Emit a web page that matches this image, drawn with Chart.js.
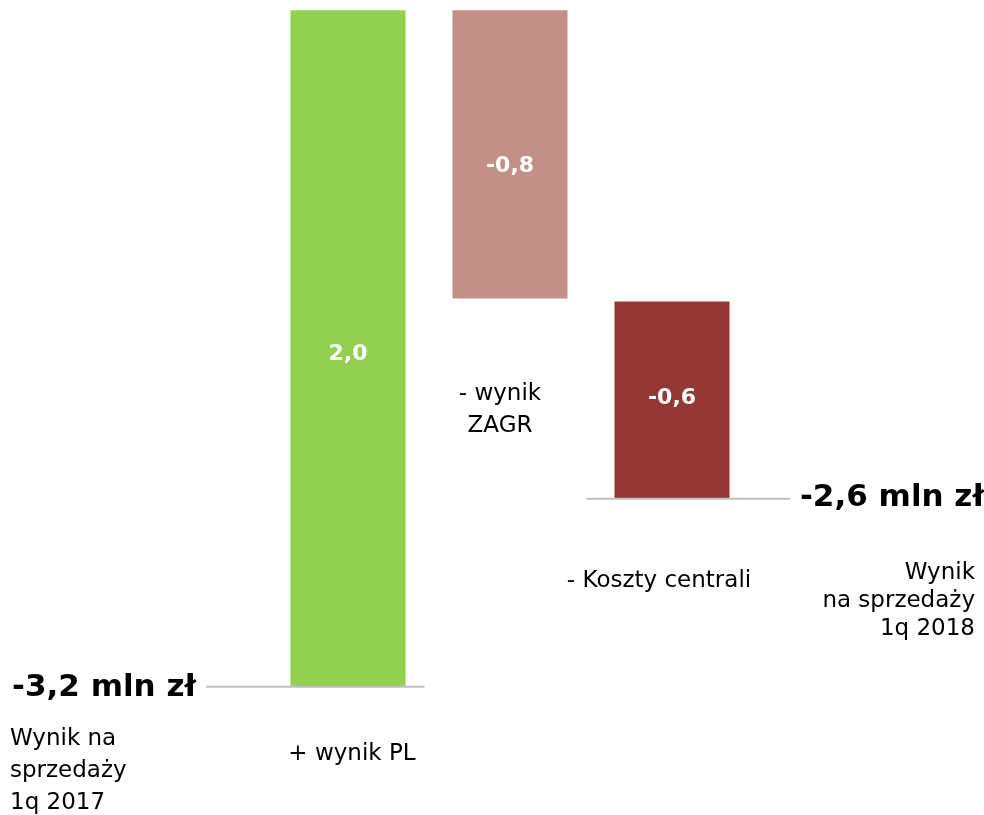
<!DOCTYPE html>
<html>
<head>
<meta charset="utf-8">
<script src="https://cdn.jsdelivr.net/npm/chart.js@4"></script>
<style>
  html, body { margin: 0; padding: 0; background: #fff; }
  #wrap { width: 984px; height: 815px; position: relative; }
</style>
</head>
<body>
<div id="wrap"><canvas id="chart"></canvas></div>
<script>
const categories = [
  ['Wynik na', 'sprzedaży', '1q 2017'],
  ['+ wynik PL'],
  ['- wynik', 'ZAGR'],
  ['- Koszty centrali'],
  ['Wynik', 'na sprzedaży', '1q 2018'],
];
// floating bars [from, to], as drawn in the picture
const barRanges = [null, [-3.2, -1.04], [-1.04, -1.96], [-1.97, -2.6], null];
const barLabels = ['', '2,0', '-0,8', '-0,6', ''];
const barColors = ['#ffffff', '#92d050', '#c39087', '#953735', '#ffffff'];
const startValue = -3.2;
const endValue = -2.6;
const totalLabels = ['-3,2 mln zł', '-2,6 mln zł'];

const FONT = '"DejaVu Sans", sans-serif';

const waterfallText = {
  id: 'waterfallText',
  afterDatasetsDraw(chart) {
    const { ctx } = chart;
    const x = chart.scales.x;
    const y = chart.scales.y;
    const meta = chart.getDatasetMeta(0);
    const bw = meta.data[1].width;
    const yStart = y.getPixelForValue(startValue);
    const yEnd = y.getPixelForValue(endValue);

    ctx.save();
    // connector lines
    ctx.strokeStyle = '#bfbfbf';
    ctx.lineWidth = 2;
    ctx.beginPath();
    ctx.moveTo(x.getPixelForValue(0) + 20, yStart);
    ctx.lineTo(x.getPixelForValue(1) + bw / 2 + 19, yStart);
    ctx.moveTo(x.getPixelForValue(3) - bw / 2 - 28, yEnd);
    ctx.lineTo(x.getPixelForValue(4) - 44, yEnd);
    ctx.stroke();

    // totals
    ctx.fillStyle = '#000';
    ctx.font = 'bold 31px ' + FONT;
    ctx.textBaseline = 'middle';
    ctx.textAlign = 'right';
    ctx.fillText(totalLabels[0], x.getPixelForValue(0) + 10, yStart + 1);
    ctx.textAlign = 'left';
    ctx.fillText(totalLabels[1], x.getPixelForValue(4) - 34, yEnd - 1);

    // bar values
    ctx.fillStyle = '#fff';
    ctx.font = 'bold 22px ' + FONT;
    ctx.textAlign = 'center';
    const nudge = [0, 6, 12, -2, 0];
    meta.data.forEach((bar, i) => {
      if (!barLabels[i]) return;
      const mid = (bar.y + bar.base) / 2;
      ctx.fillText(barLabels[i], bar.x, mid + nudge[i]);
    });

    // category labels
    ctx.fillStyle = '#000';
    ctx.font = '23px ' + FONT;
    ctx.textBaseline = 'alphabetic';
    const lh = 32;
    const pinkBottom = Math.max(meta.data[2].y, meta.data[2].base);
    const place = [
      { align: 'left', x: 10, y: yStart + 58 },
      { align: 'center', x: x.getPixelForValue(1) + 4, y: yStart + 73 },
      { align: 'center', x: x.getPixelForValue(2) - 10, y: pinkBottom + 102 },
      { align: 'center', x: x.getPixelForValue(3) - 13, y: yEnd + 88 },
      { align: 'right', x: 975, y: yEnd + 80 },
    ];
    categories.forEach((lines, i) => {
      const p = place[i];
      ctx.textAlign = p.align;
      lines.forEach((line, j) => ctx.fillText(line, p.x, p.y + j * (i === 4 ? 28 : lh)));
    });
    ctx.restore();
  },
};

new Chart(document.getElementById('chart'), {
  type: 'bar',
  data: {
    labels: categories.map(c => c.join(' ')),
    datasets: [{
      data: barRanges,
      backgroundColor: barColors,
      borderWidth: 0,
      barPercentage: 0.71,
      categoryPercentage: 1,
    }],
  },
  options: {
    responsive: true,
    maintainAspectRatio: false,
    animation: false,
    events: [],
    layout: { padding: { left: 105, right: 69, top: 0, bottom: 0 } },
    plugins: {
      legend: { display: false },
      tooltip: { enabled: false },
    },
    scales: {
      x: { display: false },
      y: { display: false, min: -3.61, max: -1.007 },
    },
  },
  plugins: [waterfallText],
});
</script>
</body>
</html>
